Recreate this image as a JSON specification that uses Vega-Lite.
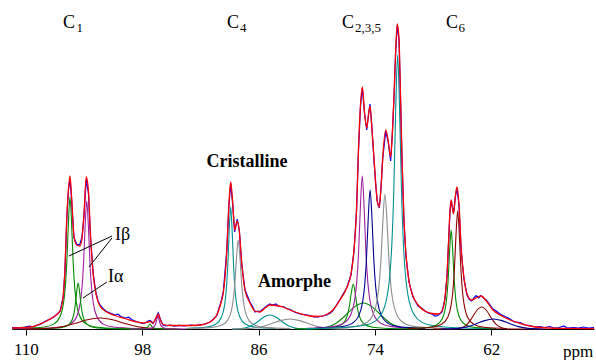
{
"$schema": "https://vega.github.io/schema/vega-lite/v6.json",
"width": 582, "height": 329,
"autosize": {"type": "none"},
"padding": {"left": 12, "top": 0, "right": 2, "bottom": 31},
"background": "white",
"config": {"view": {"stroke": null}, "font": "Liberation Serif", "axis": {"labelFont": "Liberation Serif", "titleFont": "Liberation Serif"}, "text": {"font": "Liberation Serif"}},
"datasets": {
"comp": [
{"s":"vIb","ppm":97.0,"i":0.2},{"s":"vIb","ppm":100.50,"i":0.6},{"s":"vIb","ppm":102.81,"i":2.0},{"s":"vIb","ppm":103.80,"i":5.1},{"s":"vIb","ppm":104.46,"i":13.2},{"s":"vIb","ppm":104.79,"i":26.4},{"s":"vIb","ppm":104.955,"i":40.6},{"s":"vIb","ppm":105.12,"i":66},{"s":"vIb","ppm":105.285,"i":105.6},{"s":"vIb","ppm":105.45,"i":132},{"s":"vIb","ppm":105.615,"i":105.6},{"s":"vIb","ppm":105.78,"i":66},{"s":"vIb","ppm":105.945,"i":40.6},{"s":"vIb","ppm":106.11,"i":26.4},{"s":"vIb","ppm":106.44,"i":13.2},{"s":"vIb","ppm":107.10,"i":5.1},{"s":"vIb","ppm":108.09,"i":2.0},{"s":"vIb","ppm":110.40,"i":0.6},{"s":"vIb","ppm":111.43,"i":0.4},
{"s":"pIb","ppm":98.62,"i":0.56},{"s":"pIb","ppm":101.00,"i":2.0},{"s":"pIb","ppm":102.02,"i":4.9},{"s":"pIb","ppm":102.70,"i":12.8},{"s":"pIb","ppm":103.04,"i":25.6},{"s":"pIb","ppm":103.21,"i":39.4},{"s":"pIb","ppm":103.38,"i":64},{"s":"pIb","ppm":103.55,"i":102.4},{"s":"pIb","ppm":103.72,"i":128},{"s":"pIb","ppm":103.89,"i":102.4},{"s":"pIb","ppm":104.06,"i":64},{"s":"pIb","ppm":104.23,"i":39.4},{"s":"pIb","ppm":104.40,"i":25.6},{"s":"pIb","ppm":104.74,"i":12.8},{"s":"pIb","ppm":105.42,"i":4.9},{"s":"pIb","ppm":106.44,"i":2.0},{"s":"pIb","ppm":108.82,"i":0.56},{"s":"pIb","ppm":111.43,"i":0.3},
{"s":"vIa","ppm":99.96,"i":0.2},{"s":"vIa","ppm":102.13,"i":0.7},{"s":"vIa","ppm":103.06,"i":1.8},{"s":"vIa","ppm":103.68,"i":4.6},{"s":"vIa","ppm":103.99,"i":9.2},{"s":"vIa","ppm":104.145,"i":14.2},{"s":"vIa","ppm":104.30,"i":23},{"s":"vIa","ppm":104.455,"i":36.8},{"s":"vIa","ppm":104.61,"i":46},{"s":"vIa","ppm":104.765,"i":36.8},{"s":"vIa","ppm":104.92,"i":23},{"s":"vIa","ppm":105.075,"i":14.2},{"s":"vIa","ppm":105.23,"i":9.2},{"s":"vIa","ppm":105.54,"i":4.6},{"s":"vIa","ppm":106.16,"i":1.8},{"s":"vIa","ppm":107.09,"i":0.7},{"s":"vIa","ppm":109.26,"i":0.2},
{"s":"rC1","ppm":94.56,"i":0.02},{"s":"rC1","ppm":95.86,"i":0.14},{"s":"rC1","ppm":97.16,"i":0.7},{"s":"rC1","ppm":98.46,"i":2.3},{"s":"rC1","ppm":99.76,"i":5.5},{"s":"rC1","ppm":101.06,"i":9.25},{"s":"rC1","ppm":102.36,"i":11},{"s":"rC1","ppm":103.66,"i":9.25},{"s":"rC1","ppm":104.96,"i":5.5},{"s":"rC1","ppm":106.26,"i":2.3},{"s":"rC1","ppm":107.56,"i":0.7},{"s":"rC1","ppm":108.86,"i":0.14},{"s":"rC1","ppm":110.16,"i":0.02},
{"s":"v98","ppm":94.20,"i":0.02},{"s":"v98","ppm":95.60,"i":0.08},{"s":"v98","ppm":96.20,"i":0.19},{"s":"v98","ppm":96.60,"i":0.5},{"s":"v98","ppm":96.80,"i":1},{"s":"v98","ppm":96.90,"i":1.54},{"s":"v98","ppm":97.00,"i":2.5},{"s":"v98","ppm":97.10,"i":4},{"s":"v98","ppm":97.20,"i":5},{"s":"v98","ppm":97.30,"i":4},{"s":"v98","ppm":97.40,"i":2.5},{"s":"v98","ppm":97.50,"i":1.54},{"s":"v98","ppm":97.60,"i":1},{"s":"v98","ppm":97.80,"i":0.5},{"s":"v98","ppm":98.20,"i":0.19},{"s":"v98","ppm":98.80,"i":0.08},{"s":"v98","ppm":100.20,"i":0.02},
{"s":"p98","ppm":93.53,"i":0.06},{"s":"p98","ppm":94.86,"i":0.2},{"s":"p98","ppm":95.43,"i":0.5},{"s":"p98","ppm":95.81,"i":1.3},{"s":"p98","ppm":96.00,"i":2.6},{"s":"p98","ppm":96.095,"i":4.0},{"s":"p98","ppm":96.19,"i":6.5},{"s":"p98","ppm":96.285,"i":10.4},{"s":"p98","ppm":96.38,"i":13},{"s":"p98","ppm":96.475,"i":10.4},{"s":"p98","ppm":96.57,"i":6.5},{"s":"p98","ppm":96.665,"i":4.0},{"s":"p98","ppm":96.76,"i":2.6},{"s":"p98","ppm":96.95,"i":1.3},{"s":"p98","ppm":97.33,"i":0.5},{"s":"p98","ppm":97.90,"i":0.2},{"s":"p98","ppm":99.23,"i":0.06},
{"s":"tC4","ppm":84.23,"i":0.54},{"s":"tC4","ppm":86.40,"i":1.9},{"s":"tC4","ppm":87.33,"i":4.7},{"s":"tC4","ppm":87.95,"i":12.2},{"s":"tC4","ppm":88.26,"i":24.4},{"s":"tC4","ppm":88.415,"i":37.5},{"s":"tC4","ppm":88.57,"i":61},{"s":"tC4","ppm":88.725,"i":97.6},{"s":"tC4","ppm":88.88,"i":122},{"s":"tC4","ppm":89.035,"i":97.6},{"s":"tC4","ppm":89.19,"i":61},{"s":"tC4","ppm":89.345,"i":37.5},{"s":"tC4","ppm":89.50,"i":24.4},{"s":"tC4","ppm":89.81,"i":12.2},{"s":"tC4","ppm":90.43,"i":4.7},{"s":"tC4","ppm":91.36,"i":1.9},{"s":"tC4","ppm":93.53,"i":0.54},
{"s":"gC4","ppm":82.70,"i":0.4},{"s":"gC4","ppm":85.22,"i":1.4},{"s":"gC4","ppm":86.30,"i":3.4},{"s":"gC4","ppm":87.02,"i":8.9},{"s":"gC4","ppm":87.38,"i":17.8},{"s":"gC4","ppm":87.56,"i":27.4},{"s":"gC4","ppm":87.74,"i":44.5},{"s":"gC4","ppm":87.92,"i":71.2},{"s":"gC4","ppm":88.10,"i":89},{"s":"gC4","ppm":88.28,"i":71.2},{"s":"gC4","ppm":88.46,"i":44.5},{"s":"gC4","ppm":88.64,"i":27.4},{"s":"gC4","ppm":88.82,"i":17.8},{"s":"gC4","ppm":89.18,"i":8.9},{"s":"gC4","ppm":89.90,"i":3.4},{"s":"gC4","ppm":90.98,"i":1.4},{"s":"gC4","ppm":93.50,"i":0.4},
{"s":"tAm","ppm":80.93,"i":0.03},{"s":"tAm","ppm":81.58,"i":0.18},{"s":"tAm","ppm":82.23,"i":0.9},{"s":"tAm","ppm":82.88,"i":2.9},{"s":"tAm","ppm":83.53,"i":7},{"s":"tAm","ppm":84.18,"i":11.8},{"s":"tAm","ppm":84.83,"i":14},{"s":"tAm","ppm":85.48,"i":11.8},{"s":"tAm","ppm":86.13,"i":7},{"s":"tAm","ppm":86.78,"i":2.9},{"s":"tAm","ppm":87.43,"i":0.9},{"s":"tAm","ppm":88.08,"i":0.18},{"s":"tAm","ppm":88.73,"i":0.03},
{"s":"gAm","ppm":76.76,"i":0.02},{"s":"gAm","ppm":77.76,"i":0.13},{"s":"gAm","ppm":78.76,"i":0.63},{"s":"gAm","ppm":79.76,"i":2.1},{"s":"gAm","ppm":80.76,"i":5},{"s":"gAm","ppm":81.76,"i":8.4},{"s":"gAm","ppm":82.76,"i":10},{"s":"gAm","ppm":83.76,"i":8.4},{"s":"gAm","ppm":84.76,"i":5},{"s":"gAm","ppm":85.76,"i":2.1},{"s":"gAm","ppm":86.76,"i":0.63},{"s":"gAm","ppm":87.76,"i":0.13},{"s":"gAm","ppm":88.76,"i":0.02},
{"s":"vC235n","ppm":70.24,"i":0.2},{"s":"vC235n","ppm":73.04,"i":0.7},{"s":"vC235n","ppm":74.24,"i":1.7},{"s":"vC235n","ppm":75.04,"i":4.5},{"s":"vC235n","ppm":75.44,"i":9},{"s":"vC235n","ppm":75.64,"i":13.8},{"s":"vC235n","ppm":75.84,"i":22.5},{"s":"vC235n","ppm":76.04,"i":36},{"s":"vC235n","ppm":76.24,"i":45},{"s":"vC235n","ppm":76.44,"i":36},{"s":"vC235n","ppm":76.64,"i":22.5},{"s":"vC235n","ppm":76.84,"i":13.8},{"s":"vC235n","ppm":77.04,"i":9},{"s":"vC235n","ppm":77.44,"i":4.5},{"s":"vC235n","ppm":78.24,"i":1.7},{"s":"vC235n","ppm":79.44,"i":0.7},{"s":"vC235n","ppm":82.24,"i":0.2},
{"s":"vC235b","ppm":69.50,"i":0.05},{"s":"vC235b","ppm":70.45,"i":0.34},{"s":"vC235b","ppm":71.40,"i":1.6},{"s":"vC235b","ppm":72.35,"i":5.5},{"s":"vC235b","ppm":73.30,"i":13},{"s":"vC235b","ppm":74.25,"i":21.9},{"s":"vC235b","ppm":75.20,"i":26},{"s":"vC235b","ppm":76.15,"i":21.9},{"s":"vC235b","ppm":77.10,"i":13},{"s":"vC235b","ppm":78.05,"i":5.5},{"s":"vC235b","ppm":79.00,"i":1.6},{"s":"vC235b","ppm":79.95,"i":0.34},{"s":"vC235b","ppm":80.90,"i":0.05},
{"s":"pC235","ppm":69.61,"i":0.67},{"s":"pC235","ppm":72.27,"i":2.4},{"s":"pC235","ppm":73.41,"i":5.9},{"s":"pC235","ppm":74.17,"i":15.3},{"s":"pC235","ppm":74.55,"i":30.6},{"s":"pC235","ppm":74.74,"i":47.1},{"s":"pC235","ppm":74.93,"i":76.5},{"s":"pC235","ppm":75.12,"i":122.4},{"s":"pC235","ppm":75.31,"i":153},{"s":"pC235","ppm":75.50,"i":122.4},{"s":"pC235","ppm":75.69,"i":76.5},{"s":"pC235","ppm":75.88,"i":47.1},{"s":"pC235","ppm":76.07,"i":30.6},{"s":"pC235","ppm":76.45,"i":15.3},{"s":"pC235","ppm":77.21,"i":5.9},{"s":"pC235","ppm":78.35,"i":2.4},{"s":"pC235","ppm":81.01,"i":0.67},
{"s":"nC235","ppm":68.80,"i":0.6},{"s":"nC235","ppm":71.46,"i":2.1},{"s":"nC235","ppm":72.60,"i":5.4},{"s":"nC235","ppm":73.36,"i":13.9},{"s":"nC235","ppm":73.74,"i":27.8},{"s":"nC235","ppm":73.93,"i":42.8},{"s":"nC235","ppm":74.12,"i":69.5},{"s":"nC235","ppm":74.31,"i":111.2},{"s":"nC235","ppm":74.50,"i":139},{"s":"nC235","ppm":74.69,"i":111.2},{"s":"nC235","ppm":74.88,"i":69.5},{"s":"nC235","ppm":75.07,"i":42.8},{"s":"nC235","ppm":75.26,"i":27.8},{"s":"nC235","ppm":75.64,"i":13.9},{"s":"nC235","ppm":76.40,"i":5.4},{"s":"nC235","ppm":77.54,"i":2.1},{"s":"nC235","ppm":80.20,"i":0.6},
{"s":"gC235","ppm":66.67,"i":0.6},{"s":"gC235","ppm":69.61,"i":2.1},{"s":"gC235","ppm":70.87,"i":5.2},{"s":"gC235","ppm":71.71,"i":13.5},{"s":"gC235","ppm":72.13,"i":27},{"s":"gC235","ppm":72.34,"i":41.5},{"s":"gC235","ppm":72.55,"i":67.5},{"s":"gC235","ppm":72.76,"i":108},{"s":"gC235","ppm":72.97,"i":135},{"s":"gC235","ppm":73.18,"i":108},{"s":"gC235","ppm":73.39,"i":67.5},{"s":"gC235","ppm":73.60,"i":41.5},{"s":"gC235","ppm":73.81,"i":27},{"s":"gC235","ppm":74.23,"i":13.5},{"s":"gC235","ppm":75.07,"i":5.2},{"s":"gC235","ppm":76.33,"i":2.1},{"s":"gC235","ppm":79.27,"i":0.6},
{"s":"tC235","ppm":62.0,"i":0.4},{"s":"tC235","ppm":65.66,"i":1.2},{"s":"tC235","ppm":68.46,"i":4.2},{"s":"tC235","ppm":69.66,"i":10.5},{"s":"tC235","ppm":70.46,"i":27.4},{"s":"tC235","ppm":70.86,"i":54.8},{"s":"tC235","ppm":71.06,"i":84.3},{"s":"tC235","ppm":71.26,"i":137},{"s":"tC235","ppm":71.46,"i":219.2},{"s":"tC235","ppm":71.66,"i":274},{"s":"tC235","ppm":71.86,"i":219.2},{"s":"tC235","ppm":72.06,"i":137},{"s":"tC235","ppm":72.26,"i":84.3},{"s":"tC235","ppm":72.46,"i":54.8},{"s":"tC235","ppm":72.86,"i":27.4},{"s":"tC235","ppm":73.66,"i":10.5},{"s":"tC235","ppm":74.86,"i":4.2},{"s":"tC235","ppm":77.66,"i":1.2},{"s":"tC235","ppm":81.0,"i":0.4},
{"s":"vC6","ppm":61.49,"i":0.44},{"s":"vC6","ppm":63.66,"i":1.5},{"s":"vC6","ppm":64.59,"i":3.8},{"s":"vC6","ppm":65.21,"i":9.9},{"s":"vC6","ppm":65.52,"i":19.8},{"s":"vC6","ppm":65.675,"i":30.5},{"s":"vC6","ppm":65.83,"i":49.5},{"s":"vC6","ppm":65.985,"i":79.2},{"s":"vC6","ppm":66.14,"i":99},{"s":"vC6","ppm":66.295,"i":79.2},{"s":"vC6","ppm":66.45,"i":49.5},{"s":"vC6","ppm":66.605,"i":30.5},{"s":"vC6","ppm":66.76,"i":19.8},{"s":"vC6","ppm":67.07,"i":9.9},{"s":"vC6","ppm":67.69,"i":3.8},{"s":"vC6","ppm":68.62,"i":1.5},{"s":"vC6","ppm":70.79,"i":0.44},
{"s":"rC6","ppm":60.37,"i":0.5},{"s":"rC6","ppm":62.75,"i":1.8},{"s":"rC6","ppm":63.77,"i":4.5},{"s":"rC6","ppm":64.45,"i":11.8},{"s":"rC6","ppm":64.79,"i":23.6},{"s":"rC6","ppm":64.96,"i":36.3},{"s":"rC6","ppm":65.13,"i":59},{"s":"rC6","ppm":65.30,"i":94.4},{"s":"rC6","ppm":65.47,"i":118},{"s":"rC6","ppm":65.64,"i":94.4},{"s":"rC6","ppm":65.81,"i":59},{"s":"rC6","ppm":65.98,"i":36.3},{"s":"rC6","ppm":66.15,"i":23.6},{"s":"rC6","ppm":66.49,"i":11.8},{"s":"rC6","ppm":67.17,"i":4.5},{"s":"rC6","ppm":68.19,"i":1.8},{"s":"rC6","ppm":70.57,"i":0.5},
{"s":"rC6b","ppm":57.0,"i":0.02},{"s":"rC6b","ppm":60.0,"i":0.04},{"s":"rC6b","ppm":60.5,"i":0.3},{"s":"rC6b","ppm":61.0,"i":1.4},{"s":"rC6b","ppm":61.5,"i":4.6},{"s":"rC6b","ppm":62.0,"i":11},{"s":"rC6b","ppm":62.5,"i":18.5},{"s":"rC6b","ppm":63.0,"i":22},{"s":"rC6b","ppm":63.5,"i":18.5},{"s":"rC6b","ppm":64.0,"i":11},{"s":"rC6b","ppm":64.5,"i":4.6},{"s":"rC6b","ppm":65.0,"i":1.4},{"s":"rC6b","ppm":65.5,"i":0.3},{"s":"rC6b","ppm":66.0,"i":0.04},{"s":"rC6b","ppm":68.0,"i":0.02},
{"s":"nC6b","ppm":56.40,"i":0.02},{"s":"nC6b","ppm":57.30,"i":0.13},{"s":"nC6b","ppm":58.20,"i":0.63},{"s":"nC6b","ppm":59.10,"i":2.1},{"s":"nC6b","ppm":60.00,"i":5},{"s":"nC6b","ppm":60.90,"i":8.4},{"s":"nC6b","ppm":61.80,"i":10},{"s":"nC6b","ppm":62.70,"i":8.4},{"s":"nC6b","ppm":63.60,"i":5},{"s":"nC6b","ppm":64.50,"i":2.1},{"s":"nC6b","ppm":65.40,"i":0.63},{"s":"nC6b","ppm":66.30,"i":0.13},{"s":"nC6b","ppm":67.20,"i":0.02}
],
"exp": [
{"ppm":111.43,"i":1.5},{"ppm":110.8,"i":1.2},{"ppm":110.09,"i":2},{"ppm":109.6,"i":2.8},{"ppm":109.27,"i":2.2},{"ppm":108.9,"i":3.6},{"ppm":108.55,"i":4.5},{"ppm":108.2,"i":6.5},{"ppm":107.855,"i":8.5},{"ppm":107.5,"i":10},{"ppm":107.17,"i":11.5},{"ppm":106.48,"i":17.5},{"ppm":106.14,"i":33},{"ppm":105.97,"i":58},{"ppm":105.79,"i":108},{"ppm":105.61,"i":139},{"ppm":105.45,"i":150},{"ppm":105.28,"i":129},{"ppm":105.04,"i":91},{"ppm":104.76,"i":85},{"ppm":104.60,"i":84},{"ppm":104.42,"i":85},{"ppm":104.21,"i":92},{"ppm":104.01,"i":113},{"ppm":103.77,"i":150},{"ppm":103.54,"i":135},{"ppm":103.34,"i":93},{"ppm":103.05,"i":55},{"ppm":102.77,"i":36},{"ppm":102.55,"i":28},{"ppm":102.36,"i":24},{"ppm":102.0,"i":20},{"ppm":101.67,"i":17.5},{"ppm":101.3,"i":16},{"ppm":100.81,"i":14},{"ppm":100.5,"i":14.8},{"ppm":100.2,"i":12.5},{"ppm":99.78,"i":11},{"ppm":99.4,"i":11.8},{"ppm":99.1,"i":9.5},{"ppm":98.75,"i":8},{"ppm":98.3,"i":6.5},{"ppm":97.92,"i":5.5},{"ppm":97.6,"i":6.5},{"ppm":97.41,"i":8},{"ppm":97.20,"i":8.5},{"ppm":97.0,"i":7},{"ppm":96.89,"i":5.5},{"ppm":96.58,"i":11},{"ppm":96.35,"i":16},{"ppm":96.12,"i":9.5},{"ppm":95.86,"i":4},{"ppm":95.5,"i":3},{"ppm":95.14,"i":4},{"ppm":94.7,"i":2.8},{"ppm":94.2,"i":3.6},{"ppm":93.59,"i":3},{"ppm":93.0,"i":4},{"ppm":92.5,"i":3.4},{"ppm":92.045,"i":4.2},{"ppm":91.5,"i":5},{"ppm":91.01,"i":7},{"ppm":90.7,"i":9.5},{"ppm":90.32,"i":13},{"ppm":89.88,"i":27},{"ppm":89.64,"i":37},{"ppm":89.29,"i":77},{"ppm":89.09,"i":119},{"ppm":88.88,"i":146},{"ppm":88.67,"i":125},{"ppm":88.47,"i":97},{"ppm":88.20,"i":110},{"ppm":87.99,"i":99},{"ppm":87.74,"i":65},{"ppm":87.40,"i":39},{"ppm":86.89,"i":27},{"ppm":86.60,"i":22},{"ppm":86.37,"i":17},{"ppm":86.1,"i":18},{"ppm":85.86,"i":17.5},{"ppm":85.6,"i":19.5},{"ppm":85.34,"i":21.5},{"ppm":85.1,"i":23.5},{"ppm":84.83,"i":25},{"ppm":84.6,"i":24},{"ppm":84.4,"i":24.5},{"ppm":84.21,"i":25},{"ppm":83.9,"i":22.5},{"ppm":83.48,"i":22.5},{"ppm":83.1,"i":20.5},{"ppm":82.76,"i":19.5},{"ppm":82.3,"i":17},{"ppm":81.73,"i":15},{"ppm":81.3,"i":14.5},{"ppm":80.70,"i":13.5},{"ppm":80.3,"i":12},{"ppm":79.88,"i":12},{"ppm":79.4,"i":13},{"ppm":78.98,"i":14},{"ppm":78.6,"i":16},{"ppm":78.33,"i":18.5},{"ppm":77.61,"i":29.5},{"ppm":76.92,"i":41},{"ppm":76.47,"i":54},{"ppm":76.16,"i":78},{"ppm":75.90,"i":118},{"ppm":75.70,"i":178},{"ppm":75.49,"i":223},{"ppm":75.30,"i":241},{"ppm":75.08,"i":216},{"ppm":74.85,"i":199},{"ppm":74.67,"i":214},{"ppm":74.51,"i":225},{"ppm":74.34,"i":205},{"ppm":74.17,"i":180},{"ppm":73.95,"i":148},{"ppm":73.76,"i":127},{"ppm":73.55,"i":121},{"ppm":73.38,"i":140},{"ppm":73.20,"i":170},{"ppm":72.89,"i":198},{"ppm":72.63,"i":187},{"ppm":72.38,"i":168},{"ppm":72.19,"i":198},{"ppm":72.04,"i":230},{"ppm":71.86,"i":278},{"ppm":71.70,"i":304},{"ppm":71.52,"i":289},{"ppm":71.37,"i":234},{"ppm":71.21,"i":169},{"ppm":71.01,"i":109},{"ppm":70.80,"i":73},{"ppm":70.49,"i":47},{"ppm":70.08,"i":32},{"ppm":69.56,"i":23},{"ppm":69.2,"i":21},{"ppm":68.84,"i":18},{"ppm":68.5,"i":16},{"ppm":68.12,"i":15},{"ppm":67.8,"i":13},{"ppm":67.50,"i":13.5},{"ppm":67.09,"i":17},{"ppm":66.78,"i":30},{"ppm":66.57,"i":53},{"ppm":66.40,"i":88},{"ppm":66.26,"i":118},{"ppm":66.14,"i":128},{"ppm":65.90,"i":116},{"ppm":65.69,"i":133},{"ppm":65.54,"i":141},{"ppm":65.33,"i":123},{"ppm":65.10,"i":78},{"ppm":64.82,"i":50},{"ppm":64.50,"i":34},{"ppm":64.3,"i":30},{"ppm":64.04,"i":28},{"ppm":63.8,"i":31},{"ppm":63.57,"i":33.5},{"ppm":63.3,"i":31},{"ppm":63.06,"i":33.5},{"ppm":62.8,"i":31},{"ppm":62.48,"i":28.5},{"ppm":62.2,"i":25},{"ppm":61.83,"i":20},{"ppm":61.5,"i":18},{"ppm":61.10,"i":15},{"ppm":60.6,"i":12.5},{"ppm":60.07,"i":10},{"ppm":59.6,"i":7},{"ppm":59.04,"i":6.5},{"ppm":58.5,"i":4},{"ppm":58.01,"i":3.5},{"ppm":57.5,"i":2},{"ppm":56.98,"i":2.5},{"ppm":56.5,"i":1.5},{"ppm":56.0,"i":2.5},{"ppm":55.5,"i":1},{"ppm":55.0,"i":1.5},{"ppm":54.5,"i":3},{"ppm":54.2,"i":1},{"ppm":53.5,"i":1.5},{"ppm":53.0,"i":1},{"ppm":52.5,"i":2},{"ppm":52.0,"i":1},{"ppm":51.41,"i":1.5}
],
"sim": [
{"ppm":111.43,"i":1},{"ppm":110.09,"i":1.5},{"ppm":109.27,"i":2.3},{"ppm":108.55,"i":5},{"ppm":107.855,"i":8},{"ppm":107.17,"i":12},{"ppm":106.48,"i":18},{"ppm":106.14,"i":34},{"ppm":105.97,"i":59},{"ppm":105.79,"i":109},{"ppm":105.61,"i":139},{"ppm":105.45,"i":153},{"ppm":105.28,"i":131},{"ppm":105.04,"i":93},{"ppm":104.76,"i":84},{"ppm":104.42,"i":83},{"ppm":104.21,"i":91},{"ppm":104.01,"i":114},{"ppm":103.77,"i":152},{"ppm":103.54,"i":137},{"ppm":103.34,"i":94},{"ppm":103.05,"i":54},{"ppm":102.77,"i":35},{"ppm":102.36,"i":23},{"ppm":101.67,"i":17},{"ppm":100.81,"i":13.5},{"ppm":99.78,"i":10.5},{"ppm":98.75,"i":7.5},{"ppm":97.92,"i":6},{"ppm":97.41,"i":7},{"ppm":97.20,"i":7.5},{"ppm":96.89,"i":6},{"ppm":96.58,"i":11},{"ppm":96.35,"i":15},{"ppm":96.12,"i":9},{"ppm":95.86,"i":4.5},{"ppm":95.14,"i":3.5},{"ppm":93.59,"i":3.5},{"ppm":92.045,"i":4},{"ppm":91.01,"i":7},{"ppm":90.32,"i":14},{"ppm":89.88,"i":26},{"ppm":89.64,"i":36},{"ppm":89.29,"i":76},{"ppm":89.09,"i":119},{"ppm":88.88,"i":147},{"ppm":88.67,"i":126},{"ppm":88.47,"i":99},{"ppm":88.20,"i":108},{"ppm":87.99,"i":98},{"ppm":87.74,"i":66},{"ppm":87.40,"i":39},{"ppm":86.89,"i":26},{"ppm":86.37,"i":18},{"ppm":85.86,"i":17},{"ppm":85.34,"i":21},{"ppm":84.83,"i":24},{"ppm":84.21,"i":23.5},{"ppm":83.48,"i":22},{"ppm":82.76,"i":19},{"ppm":81.73,"i":15.5},{"ppm":80.70,"i":13},{"ppm":79.88,"i":12.5},{"ppm":78.98,"i":14.5},{"ppm":78.33,"i":19},{"ppm":77.61,"i":29},{"ppm":76.92,"i":41},{"ppm":76.47,"i":55},{"ppm":76.16,"i":79},{"ppm":75.90,"i":119},{"ppm":75.70,"i":179},{"ppm":75.49,"i":224},{"ppm":75.30,"i":242},{"ppm":75.08,"i":217},{"ppm":74.85,"i":201},{"ppm":74.67,"i":214},{"ppm":74.51,"i":223},{"ppm":74.34,"i":204},{"ppm":74.17,"i":181},{"ppm":73.95,"i":149},{"ppm":73.76,"i":128},{"ppm":73.55,"i":122},{"ppm":73.38,"i":141},{"ppm":73.20,"i":171},{"ppm":72.89,"i":199},{"ppm":72.63,"i":188},{"ppm":72.38,"i":172},{"ppm":72.19,"i":199},{"ppm":72.04,"i":231},{"ppm":71.86,"i":279},{"ppm":71.70,"i":305},{"ppm":71.52,"i":290},{"ppm":71.37,"i":235},{"ppm":71.21,"i":170},{"ppm":71.01,"i":110},{"ppm":70.80,"i":74},{"ppm":70.49,"i":48},{"ppm":70.08,"i":33},{"ppm":69.56,"i":24},{"ppm":68.84,"i":18},{"ppm":68.12,"i":15.5},{"ppm":67.50,"i":15},{"ppm":67.09,"i":18},{"ppm":66.78,"i":31},{"ppm":66.57,"i":54},{"ppm":66.40,"i":89},{"ppm":66.26,"i":119},{"ppm":66.14,"i":129},{"ppm":65.90,"i":115},{"ppm":65.69,"i":134},{"ppm":65.54,"i":142},{"ppm":65.33,"i":124},{"ppm":65.10,"i":79},{"ppm":64.82,"i":51},{"ppm":64.50,"i":35},{"ppm":64.04,"i":29},{"ppm":63.57,"i":31},{"ppm":63.06,"i":33},{"ppm":62.48,"i":27.5},{"ppm":61.83,"i":19},{"ppm":61.10,"i":14},{"ppm":60.07,"i":9},{"ppm":59.04,"i":5.7},{"ppm":58.01,"i":3},{"ppm":56.98,"i":1.5},{"ppm":54.92,"i":0.7},{"ppm":51.41,"i":0.4}
],
"bigc": [{"t":"C","ppm":106.17,"i":300.7},{"t":"C","ppm":89.26,"i":300.7},{"t":"C","ppm":77.40,"i":300.7},{"t":"C","ppm":66.675,"i":300.7}],
"subc": [{"t":"1","ppm":104.78,"i":297.3},{"t":"4","ppm":87.92,"i":297.3},{"t":"2,3,5","ppm":76.06,"i":297.3},{"t":"6","ppm":65.39,"i":297.3}],
"bold": [{"t":"Cristalline","ppm":87.20,"i":162.3},{"t":"Amorphe","ppm":82.30,"i":42.3}],
"iso": [{"t":"Iβ","ppm":100.81,"i":89},{"t":"Iα","ppm":101.53,"i":47}],
"arrows": [{"ppm":101.12,"i":93,"ppm2":105.56,"i2":73},{"ppm":101.12,"i":91,"ppm2":103.49,"i2":62},{"ppm":101.64,"i":47,"ppm2":104.11,"i2":31}]
},
"encoding": {
"x": {"field":"ppm","type":"quantitative","scale":{"domain":[51.41,111.43],"reverse":true,"nice":false,"zero":false},
 "axis":{"values":[110,98,86,74,62],"format":"d","title":"ppm","grid":false,"labelFont":"Liberation Serif","labelFontSize":17,"labelColor":"black","labelPadding":6,"labelFlush":false,"labelOverlap":false,"tickSize":6,"tickColor":"black","domainColor":"black","titleFont":"Liberation Serif","titleFontSize":17,"titleFontWeight":"normal","titleColor":"black","titleX":565.5,"titleY":27.7,"titleAlign":"center","titleBaseline":"alphabetic"}},
"y": {"field":"i","type":"quantitative","scale":{"domain":[0,329],"nice":false,"zero":true},"axis":null}
},
"layer": [
{"data":{"name":"comp"},"mark":{"type":"line","interpolate":"monotone","strokeWidth":1.1},
 "encoding":{"color":{"field":"s","type":"nominal","legend":null,
  "scale":{"domain":["vIb","pIb","vIa","rC1","v98","p98","tC4","gC4","tAm","gAm","vC235n","vC235b","pC235","nC235","gC235","tC235","vC6","rC6","rC6b","nC6b"],
  "range":["#008a00","#a020a0","#008a00","#8b0000","#008a00","#a020a0","#009090","#8c8c8c","#009090","#8c8c8c","#008a00","#008a00","#a020a0","#000090","#8c8c8c","#009090","#008a00","#8b0000","#8b0000","#000090"]}}}},
{"data":{"name":"exp"},"mark":{"type":"line","color":"#0000ff","strokeWidth":1.2},"encoding":{}},
{"data":{"name":"sim"},"mark":{"type":"line","color":"#ff0000","strokeWidth":1.3,"interpolate":"monotone"},"encoding":{}},
{"data":{"name":"arrows"},"mark":{"type":"rule","color":"black","strokeWidth":1},"encoding":{"x2":{"field":"ppm2"},"y2":{"field":"i2"}}},
{"data":{"name":"bigc"},"mark":{"type":"text","font":"Liberation Serif","fontSize":18,"align":"left","baseline":"alphabetic","color":"black"},"encoding":{"text":{"field":"t"}}},
{"data":{"name":"subc"},"mark":{"type":"text","font":"Liberation Serif","fontSize":13,"align":"left","baseline":"alphabetic","color":"black"},"encoding":{"text":{"field":"t"}}},
{"data":{"name":"bold"},"mark":{"type":"text","font":"Liberation Serif","fontSize":18,"fontWeight":"bold","align":"center","baseline":"alphabetic","color":"black"},"encoding":{"text":{"field":"t"}}},
{"data":{"name":"iso"},"mark":{"type":"text","font":"Liberation Serif","fontSize":18,"align":"left","baseline":"alphabetic","color":"black"},"encoding":{"text":{"field":"t"}}}
]
}
